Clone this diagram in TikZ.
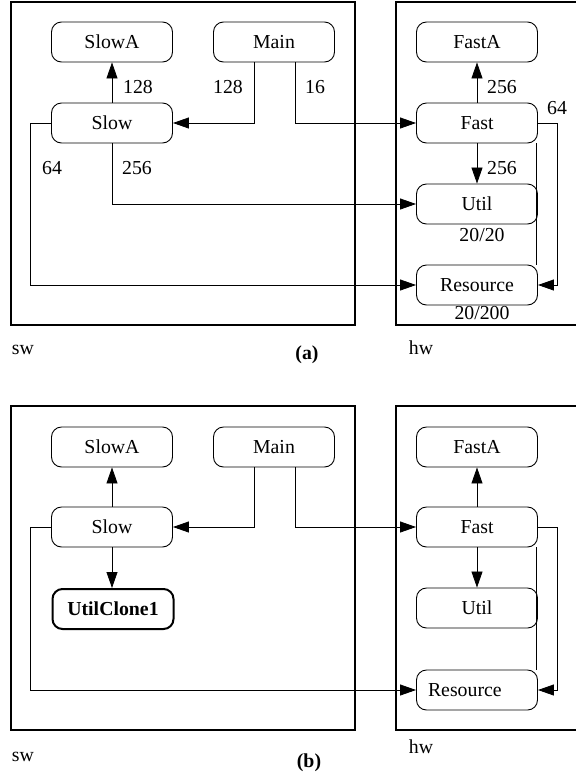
\documentclass[tikz,border=0pt]{standalone}
\usepackage{fontspec}
\setmainfont{Liberation Serif}
\usetikzlibrary{arrows.meta}
\begin{document}
\begin{tikzpicture}[x=1pt,y=-1pt,
  every node/.style={font=\fontsize{19.8}{22}\selectfont},
  modbox/.style={draw,line width=0.9pt,rounded corners=10pt,minimum width=121pt,minimum height=40pt,inner sep=0pt},
  frame/.style={draw,line width=2pt},
  arr/.style={line width=0.8pt,-{Triangle[length=16pt,width=11pt]}},
  ln/.style={line width=0.8pt},
  lbl/.style={inner sep=0pt}]
\useasboundingbox (0,0) rectangle (576,780);
% ---------------- panel (a) ----------------
\draw[frame] (11,2) rectangle (355,325);
\draw[frame] (396,2) rectangle (580,325);
\node[modbox] (aSlowA) at (112,42) {SlowA};
\node[modbox] (aMain) at (274,42) {Main};
\node[modbox] (aSlow) at (112,123) {Slow};
\node[modbox] (aFastA) at (477,42) {FastA};
\node[modbox] (aFast) at (477,123) {Fast};
\node[modbox] (aUtil) at (477,204) {Util};
\node[modbox] (aRes) at (477,285) {Resource};
\draw[arr] (aSlow) -- (aSlowA);
\draw[arr] ([xshift=-20pt]aMain.south) |- (aSlow.east);
\draw[arr] ([xshift=21pt]aMain.south) |- (aFast.west);
\draw[arr] (aSlow.south) |- (aUtil.west);
\draw[arr] (aSlow.west) -- ++(-21,0) |- (aRes.west);
\draw[arr] (aFast) -- (aFastA);
\draw[arr] (aFast) -- (aUtil);
\draw[arr] (aFast.east) -- ++(19,0) |- (aRes.east);
\draw[ln] ([xshift=-1.5pt]aFast.south east) -- ([xshift=-1.5pt]aRes.north east);
\node[lbl] (l1) at (138,87) {128};
\node[lbl] (l2) at (228,87) {128};
\node[lbl] (l3) at (315,87) {16};
\node[lbl] (l4) at (52,168) {64};
\node[lbl] (l5) at (137,168) {256};
\node[lbl] (l6) at (502,87) {256};
\node[lbl] (l7) at (502,168) {256};
\node[lbl] (l8) at (557,108) {64};
\node[lbl] (l9) at (482,235) {20/20};
\node[lbl] (l10) at (482,313) {20/200};
\node[lbl] (swa) at (23,350) {sw};
\node[lbl] (hwa) at (421,348) {hw};
\node[lbl] (capa) at (307,355) {\textbf{(a)}};
% ---------------- panel (b) ----------------
\draw[frame] (11,406) rectangle (355,730);
\draw[frame] (396,406) rectangle (580,730);
\node[modbox] (bSlowA) at (112,447) {SlowA};
\node[modbox] (bMain) at (274,447) {Main};
\node[modbox] (bSlow) at (112,527) {Slow};
\node[modbox,line width=2pt] (bClone) at (113,609) {\bfseries UtilClone1};
\node[modbox] (bFastA) at (477,447) {FastA};
\node[modbox] (bFast) at (477,527) {Fast};
\node[modbox] (bUtil) at (477,608) {Util};
\node[modbox,text width=98pt,align=left] (bRes) at (477,690) {\raisebox{-4pt}{Resource}};
\draw[arr] (bSlow) -- (bSlowA);
\draw[arr] ([xshift=-20pt]bMain.south) |- (bSlow.east);
\draw[arr] ([xshift=21pt]bMain.south) |- (bFast.west);
\draw[arr] (bSlow.south) -- (bSlow.south |- bClone.north);
\draw[arr] (bSlow.west) -- ++(-21,0) |- (bRes.west);
\draw[arr] (bFast) -- (bFastA);
\draw[arr] (bFast) -- (bUtil);
\draw[arr] (bFast.east) -- ++(19,0) |- (bRes.east);
\draw[ln] ([xshift=-1.5pt]bFast.south east) -- ([xshift=-1.5pt]bRes.north east);
\node[lbl] (swb) at (23,757) {sw};
\node[lbl] (hwb) at (421,747) {hw};
\node[lbl] (capb) at (309,763) {\textbf{(b)}};
\end{tikzpicture}
\end{document}
